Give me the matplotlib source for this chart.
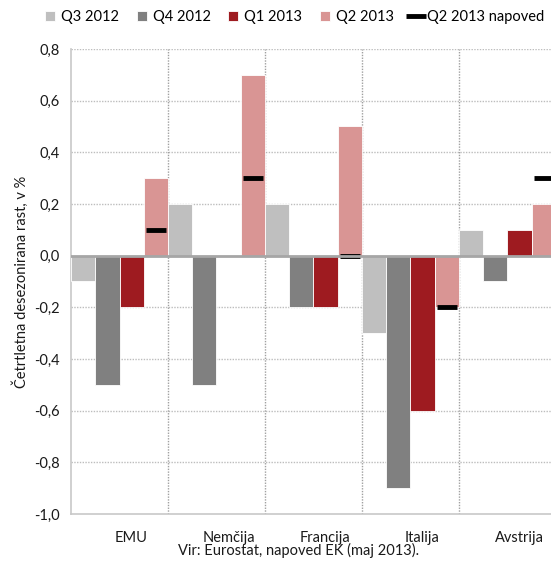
import matplotlib
matplotlib.use('Agg')
import matplotlib.pyplot as plt
import matplotlib.transforms as mtransforms
from matplotlib.ticker import FuncFormatter, MultipleLocator
import numpy as np

plt.rcParams['font.family'] = ['Lato', 'DejaVu Sans']

countries = ['EMU', 'Nemčija', 'Francija', 'Italija', 'Avstrija']
series_names = ['Q3 2012', 'Q4 2012', 'Q1 2013', 'Q2 2013']
q3_2012 = [-0.1, 0.2, 0.2, -0.3, 0.1]
q4_2012 = [-0.5, -0.5, -0.2, -0.9, -0.1]
q1_2013 = [-0.2, 0.0, -0.2, -0.6, 0.1]
q2_2013 = [0.3, 0.7, 0.5, -0.2, 0.2]
q2_forecast = [0.1, 0.3, 0.0, -0.2, 0.3]

colors = ['#bfbfbf', '#808080', '#9e1b20', '#d99594']
grid_col = '#bdbdbd'
text_col = '#1a1a1a'

fig = plt.figure(figsize=(5.51, 5.68), dpi=100)
ax = fig.add_axes([0.1289, 0.0951, 0.880, 0.8187])

x = np.arange(len(countries))
width = 0.25
all_series = [q3_2012, q4_2012, q1_2013, q2_2013]
handles = []
for i, (vals, name, col) in enumerate(zip(all_series, series_names, colors)):
    h = ax.bar(x + (i - 1.5) * width, vals, width, color=col, label=name,
               edgecolor='white', linewidth=0.6, zorder=3)
    handles.append(h)

# forecast marks sit on the Q2 2013 bar
fc, = ax.plot(x + 1.5 * width, q2_forecast, linestyle='none', marker='_',
              markersize=14, markeredgewidth=3.5, color='black',
              label='Q2 2013 napoved', zorder=4)
handles.append(fc)

ax.set_xlim(-0.5, len(countries) - 0.5)
ax.set_ylim(-1.0, 0.8)
ax.yaxis.set_major_locator(MultipleLocator(0.2))
ax.yaxis.set_major_formatter(FuncFormatter(lambda v, _: f'{v:.1f}'.replace('.', ',').replace('-0,0', '0,0')))

# gridlines and group separators
for v in np.arange(-0.8, 0.81, 0.2):
    if abs(v) > 1e-9:
        ax.axhline(v, color=grid_col, linestyle=(0, (1, 1)), linewidth=1, zorder=1)
for b in x[:-1] + 0.5:
    ax.axvline(b, color='#a0a0a0', linestyle=(0, (1, 1)), linewidth=1, zorder=1)
ax.axhline(0, color='#a6a6a6', linewidth=2, zorder=5)

for s in ['top', 'right']:
    ax.spines[s].set_visible(False)
for s in ['left', 'bottom']:
    ax.spines[s].set_color('#c8c8c8')
    ax.spines[s].set_linewidth(1.2)

ax.set_xticks(x)
ax.set_xticklabels(countries)
ax.tick_params(axis='both', length=0, labelsize=10.5, colors=text_col)
ax.tick_params(axis='x', pad=12)
ax.tick_params(axis='y', pad=8)
offset = mtransforms.ScaledTranslation(0.12, 0, fig.dpi_scale_trans)
for lab in ax.get_xticklabels():
    lab.set_transform(lab.get_transform() + offset)

ax.set_ylabel('Četrtletna desezonirana rast, v %', fontsize=10.5, color=text_col, labelpad=4)

fig.text(0.541, 0.017, 'Vir: Eurostat, napoved EK (maj 2013).', ha='center', va='bottom',
         fontsize=10.5, color=text_col)

ax.legend(handles=handles, loc='upper center', bbox_to_anchor=(0.535, 1.0),
          bbox_transform=fig.transFigure, ncol=5, frameon=False, fontsize=10.5,
          handlelength=0.7, handleheight=0.7, handletextpad=0.4, columnspacing=1.2,
          borderaxespad=0.3)

fig.savefig('out.png', dpi=100)
